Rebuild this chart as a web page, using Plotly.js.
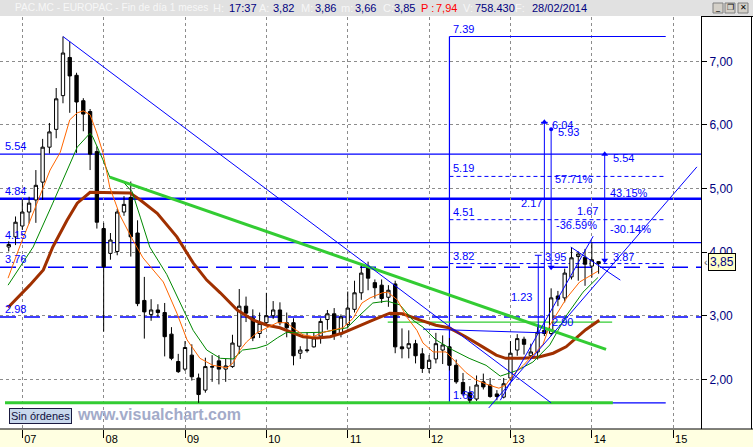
<!DOCTYPE html>
<html><head><meta charset="utf-8">
<script src="https://cdn.plot.ly/plotly-3.0.1.min.js"></script>
<style>html,body{margin:0;padding:0;background:#fff;overflow:hidden}#chart{width:753px;height:447px}</style>
</head><body><div id="chart"></div>
<script>
// ---------- DATA (monthly candles, month index 0 = Jan 2007) ----------
const firstMonth = -2; // Nov 2006
const opens = [4.08,4.24,4.41,4.63,4.82,5.10,5.65,5.93,6.46,7.06,
 6.78,6.38,6.21,5.58,4.37,3.98,4.01,4.63,4.86,4.30,
 3.24,3.02,3.09,3.05,2.71,2.28,2.16,2.38,2.02,1.83,
 2.19,2.29,2.16,2.20,2.52,3.15,2.96,2.72,2.89,3.00,
 3.09,2.89,2.89,2.41,2.45,2.51,2.68,2.94,3.03,2.71,
 2.86,3.10,3.36,3.78,3.52,3.48,3.29,3.50,2.51,2.49,
 2.56,2.40,2.17,2.32,2.46,2.51,2.22,1.95,1.79,1.69,
 1.96,1.91,1.77,1.72,2.02,2.46,2.63,2.37,2.43,2.77,
 2.72,3.31,3.28,3.61,3.93,3.92,3.78,3.82];
const highs = [4.17,4.56,4.83,4.87,5.29,5.78,6.03,6.58,7.39,7.31,
 6.82,6.42,6.25,5.66,4.46,4.30,4.68,4.88,5.11,4.50,
 3.61,3.26,3.18,3.20,2.82,2.40,2.60,2.55,2.09,2.34,
 2.38,2.38,2.32,2.70,3.42,3.30,3.10,3.05,3.36,3.23,
 3.21,3.05,2.96,2.52,2.74,2.73,2.96,3.09,3.12,3.02,
 3.38,3.55,3.82,3.85,3.57,3.57,3.48,3.55,2.80,2.77,
 2.62,2.49,2.38,2.73,2.69,2.65,2.31,2.10,1.89,2.06,
 2.09,2.02,1.83,2.02,2.60,2.71,2.67,2.56,2.85,2.92,
 3.43,3.39,3.74,4.08,4.01,4.05,4.15,3.86];
const lows = [4.01,4.11,4.35,4.45,4.46,4.82,5.55,5.79,6.34,6.19,
 5.56,5.90,5.29,4.37,2.75,3.88,3.95,4.57,3.93,3.15,
 2.64,2.92,2.98,2.36,2.30,2.10,2.13,1.98,1.63,1.79,
 1.96,1.92,1.96,2.18,2.40,2.90,2.60,2.65,2.85,2.95,
 2.85,2.66,2.22,2.32,2.42,2.50,2.56,2.78,2.62,2.66,
 2.80,3.05,3.25,3.40,3.27,3.20,3.14,2.41,2.33,2.33,
 2.25,2.10,2.10,2.25,2.24,2.14,1.93,1.74,1.63,1.66,
 1.84,1.71,1.67,1.70,1.98,2.37,2.39,2.35,2.31,2.68,
 2.68,3.15,3.21,3.57,3.55,3.47,3.60,3.66];
const closes = [4.12,4.47,4.63,4.77,5.05,5.65,5.89,6.41,7.13,6.77,
 6.36,6.17,5.54,4.47,3.77,4.19,4.63,4.75,4.24,3.19,
 3.06,3.09,3.05,2.67,2.33,2.12,2.50,2.04,1.76,2.20,
 2.20,2.16,2.21,2.57,3.15,3.04,2.65,2.88,3.00,3.09,
 2.89,2.81,2.37,2.46,2.46,2.65,2.91,3.03,2.70,2.98,
 3.12,3.36,3.67,3.59,3.44,3.27,3.40,2.51,2.48,2.56,
 2.37,2.17,2.30,2.56,2.54,2.22,1.96,1.77,1.67,1.91,
 1.88,1.73,1.73,1.93,2.41,2.64,2.55,2.43,2.74,2.72,
 3.28,3.26,3.67,3.91,3.97,3.81,3.88,3.85];

// moving averages: [month, price]
const maFast = [[-2.1,3.59],[-0.3,4.11],[1.1,4.48],[2.6,4.90],[4.1,5.29],[5.6,5.57],[7.0,6.08],[8.1,6.19],[9.0,6.22],[10.0,6.16],[11.0,5.87],[11.9,5.56],[12.9,5.02],[14.4,4.58],[16.3,4.19],[17.8,3.91],[19.3,3.72],[20.8,3.53],[22.8,3.04],[24.3,2.62],[26.2,2.33],[28.1,2.22],[30.2,2.18],[31.1,2.26],[32.1,2.46],[33.1,2.59],[34.6,2.73],[36.1,2.81],[37.6,2.89],[39.0,2.89],[39.9,2.81],[41.4,2.70],[42.9,2.67],[44.4,2.74],[45.8,2.77],[47.3,2.81],[48.8,2.96],[50.1,3.20],[51.3,3.28],[53.1,3.36],[53.9,3.37],[55.3,3.25],[56.7,2.98],[58.2,2.77],[59.1,2.57],[60.6,2.43],[62.5,2.43],[64.0,2.27],[65.4,2.11],[66.9,1.99],[68.8,1.91],[70.3,1.86],[71.3,1.91],[72.4,2.07],[73.9,2.22],[75.3,2.38],[76.8,2.55],[77.8,2.85],[80.3,3.28],[82.2,3.53],[84.9,3.70]];
const maMid = [[-2.1,3.48],[1.6,4.08],[4.5,4.77],[6.6,5.29],[8.1,5.65],[10.0,5.87],[10.4,5.81],[11.9,5.45],[12.9,5.18],[14.9,5.10],[16.2,4.95],[17.4,4.55],[18.8,4.08],[21.3,3.65],[23.3,3.20],[25.2,2.77],[27.2,2.46],[29.2,2.33],[31.1,2.32],[32.5,2.46],[34.6,2.49],[36.1,2.54],[37.6,2.65],[39.0,2.74],[40.5,2.73],[42.4,2.73],[44.4,2.74],[45.8,2.77],[47.9,2.81],[49.8,3.01],[51.7,3.20],[53.8,3.23],[55.7,3.17],[57.6,2.93],[59.1,2.82],[61.0,2.62],[63.5,2.46],[65.9,2.33],[68.4,2.22],[70.5,2.05],[73.0,2.14],[75.3,2.27],[77.8,2.54],[80.3,3.01],[82.7,3.37],[84.9,3.60]];
const maSlow = [[-2.1,3.13],[1.1,3.48],[3.1,3.72],[4.5,4.08],[6.6,4.50],[8.1,4.77],[10.0,4.94],[11.9,4.94],[13.9,4.93],[15.9,4.93],[17.4,4.82],[19.9,4.61],[22.8,4.24],[25.2,3.83],[27.2,3.56],[29.2,3.36],[31.7,3.09],[34.1,2.93],[36.1,2.85],[38.0,2.81],[39.9,2.73],[41.4,2.67],[43.5,2.65],[45.4,2.67],[47.3,2.73],[49.4,2.82],[51.7,2.93],[54.2,3.04],[56.1,3.03],[58.7,2.93],[61.0,2.85],[62.9,2.81],[65.4,2.67],[67.9,2.51],[69.9,2.38],[71.3,2.33],[73.9,2.33],[76.2,2.35],[78.3,2.41],[80.2,2.51],[81.7,2.65],[83.1,2.78],[85.1,2.93]];

// axis ticks
const yearTicks = [0,12,24,36,48,60,72,84,96];
const yearLabels = ['07','08','09','10','11','12','13','14','15'];
const priceTicks = [2,3,4,5,6,7];
const priceLabels = ['2,00','3,00','4,00','5,00','6,00','7,00'];

// drawing-tool levels
const solidLevels = [5.54, 4.15];
const thickLevels = [4.84];
const dashedLevels = [3.76, 2.98];
const levelLabels = ['5.54','4.84','4.15','3.76','2.98'];
const levelLabelValues = [5.54, 4.84, 4.15, 3.76, 2.98];
const boxMonths = [63.0, 94.9];
const boxLevels = [7.39, 1.63];
const fibLevels = [5.19, 4.51, 3.82];
const supportMonths = [-2.55, 87.1];
const supportLevel = 1.63;
const thinGreenMonths = [53.9, 87.0];
const thinGreenLevel = 2.90;
const flatBlueMonths = [59.1, 77.1];
const flatBlueLevels = [2.79, 2.73];
const downBlueMonths = [6, 78];
const downBlueLevels = [7.39, 1.63];
const greenTrendMonths = [12.9, 86.1];
const greenTrendLevels = [5.18, 2.47];
const upAMonths = [68.8, 99.5];
const upALevels = [1.55, 5.34];
const upBMonths = [70.5, 84.2];
const upBLevels = [1.67, 4.25];
const shortCMonths = [80.9, 88.2];
const shortCLevels = [4.08, 3.56];
// vertical measurements
const measureMonths = [76.1, 77.0, 78.0, 85.9];
const measureFrom = [2.73, 2.73, 3.76, 3.87];
const measureTo = [3.95, 6.04, 5.93, 5.54];
const lastClose = 3.85;

// ---------- CHART ----------
const FONT = 'Liberation Sans, Arial, sans-serif';
const BLUE = '#0000FF', NAVY = '#000080', RED = '#FF0000', GREEN = '#33CC33';
const PL = 0, PR = 701, PT = 17, PB = 429;
const fx = px => (px - PL) / (PR - PL);
const fy = py => (PB - py) / (PB - PT);
const months = opens.map((_, i) => firstMonth + i);

const traces = [];
traces.push({type:'candlestick', x: months, open: opens, high: highs, low: lows, close: closes,
  increasing:{line:{color:'#000',width:1}, fillcolor:'#FFFFFF'},
  decreasing:{line:{color:'#000',width:1}, fillcolor:'#000000'},
  whiskerwidth:0, hoverinfo:'skip', showlegend:false});
function lineTrace(pts, color, width){
  return {type:'scatter', mode:'lines', x: pts.map(p=>p[0]), y: pts.map(p=>p[1]),
    line:{color, width}, hoverinfo:'skip', showlegend:false};
}
traces.push(lineTrace(maSlow, '#A03000', 3));
traces.push(lineTrace(maMid, '#008800', 1));
traces.push(lineTrace(maFast, '#FF6600', 1));
function seg(xs, ys, color, width, dash){
  return {type:'scatter', mode:'lines', x: xs, y: ys, line:{color, width, dash: dash||'solid'}, hoverinfo:'skip', showlegend:false, cliponaxis:true};
}
traces.push(seg(greenTrendMonths, greenTrendLevels, GREEN, 3));
traces.push(seg(downBlueMonths, downBlueLevels, BLUE, 1));
traces.push(seg(upAMonths, upALevels, BLUE, 1));
traces.push(seg(upBMonths, upBLevels, BLUE, 1));
traces.push(seg(shortCMonths, shortCLevels, BLUE, 1));
traces.push(seg(flatBlueMonths, flatBlueLevels, BLUE, 1));
measureMonths.forEach((m, i) => traces.push(seg([m, m], [measureFrom[i], measureTo[i]], BLUE, 1)));
traces.push({type:'scatter', mode:'markers', x:[measureMonths[1], measureMonths[3]], y:[measureTo[1], measureTo[3]],
  marker:{symbol:'triangle-up', size:6, color:BLUE}, hoverinfo:'skip', showlegend:false});
traces.push({type:'scatter', mode:'markers', x:[measureMonths[2], measureMonths[3]], y:[measureFrom[2], measureFrom[3]],
  marker:{symbol:'triangle-down', size:6, color:BLUE}, hoverinfo:'skip', showlegend:false});
traces.push({type:'scatter', mode:'markers', x:[measureMonths[2]], y:[measureTo[2]],
  marker:{symbol:'circle', size:4, color:BLUE}, hoverinfo:'skip', showlegend:false});

const shapes = [];
// header bar, bottom strip, frame
shapes.push({type:'rect', xref:'paper', yref:'paper', x0:fx(0), x1:fx(753), y0:fy(16), y1:fy(0), fillcolor:'#E1E1E1', line:{width:0}, layer:'below'});
shapes.push({type:'rect', xref:'paper', yref:'paper', x0:fx(0), x1:fx(753), y0:fy(447), y1:fy(429), fillcolor:'#FFFFE1', line:{width:0}, layer:'below'});
shapes.push({type:'line', xref:'paper', yref:'paper', x0:fx(0), x1:fx(753), y0:fy(429), y1:fy(429), line:{color:'#000', width:1}});
shapes.push({type:'line', xref:'paper', yref:'paper', x0:fx(701), x1:fx(753), y0:fy(16.5), y1:fy(16.5), line:{color:'#000', width:1}});
shapes.push({type:'line', xref:'paper', yref:'paper', x0:fx(751.5), x1:fx(751.5), y0:fy(16.5), y1:fy(429), line:{color:'#000', width:1}});
// window buttons
[[713,723],[725,735],[738,748]].forEach(b => shapes.push({type:'rect', xref:'paper', yref:'paper', x0:fx(b[0]), x1:fx(b[1]), y0:fy(13), y1:fy(3), fillcolor:'#D4D0C8', line:{color:'#808080', width:1}}));
// horizontal levels
solidLevels.forEach(v => shapes.push({type:'line', xref:'paper', yref:'y', x0:0, x1:1, y0:v, y1:v, line:{color:BLUE, width:1.3}, layer:'between'}));
thickLevels.forEach(v => shapes.push({type:'line', xref:'paper', yref:'y', x0:0, x1:1, y0:v, y1:v, line:{color:BLUE, width:2.6}, layer:'between'}));
dashedLevels.forEach(v => shapes.push({type:'line', xref:'paper', yref:'y', x0:0, x1:1, y0:v, y1:v, line:{color:BLUE, width:1.5, dash:'16px,8px'}, layer:'between'}));
fibLevels.forEach(v => shapes.push({type:'line', xref:'x', yref:'y', x0:boxMonths[0], x1:boxMonths[1]-0.1, y0:v, y1:v, line:{color:BLUE, width:1, dash:'4px,3px'}, layer:'between'}));
// box
shapes.push({type:'line', xref:'x', yref:'y', x0:boxMonths[0], x1:boxMonths[0], y0:boxLevels[1], y1:boxLevels[0], line:{color:BLUE, width:1.2}, layer:'between'});
boxLevels.forEach(v => shapes.push({type:'line', xref:'x', yref:'y', x0:boxMonths[0], x1:boxMonths[1], y0:v, y1:v, line:{color:BLUE, width:1.2}, layer:'between'}));
// green support and thin green level
shapes.push({type:'line', xref:'x', yref:'y', x0:supportMonths[0], x1:supportMonths[1], y0:supportLevel, y1:supportLevel, line:{color:GREEN, width:3}, layer:'between'});
shapes.push({type:'line', xref:'x', yref:'y', x0:thinGreenMonths[0], x1:thinGreenMonths[1], y0:thinGreenLevel, y1:thinGreenLevel, line:{color:GREEN, width:1.2}, layer:'between'});
// caps on measure tops
[0,1].forEach(i => shapes.push({type:'line', xref:'x', yref:'y', x0:measureMonths[i]-0.5, x1:measureMonths[i]+0.5, y0:measureTo[i], y1:measureTo[i], line:{color:BLUE, width:1}}));

const ann = [];
const lf = {family:FONT, size:11, color:BLUE};
function lab(text, x, y, xa, ya, xs, ys, xref){
  ann.push({text, x, y, xref: xref||'x', yref:'y', xanchor:xa, yanchor:ya, xshift:xs||0, yshift:ys||0, showarrow:false, font:lf, borderpad:0});
}
levelLabels.forEach((t, i) => lab(t, fx(4), levelLabelValues[i], 'left', 'bottom', 0, 1, 'paper'));
boxLevels.forEach(v => lab(v.toFixed(2), boxMonths[0], v, 'left', 'bottom', 3, 1));
fibLevels.forEach(v => lab(v.toFixed(2), boxMonths[0], v, 'left', 'bottom', 3, 1));
lab('6.04', measureMonths[1], measureTo[1], 'left', 'middle', 7, -3);
lab('5.93', measureMonths[2], measureTo[2], 'left', 'middle', 6, -3);
lab('5.54', measureMonths[3], measureTo[3], 'left', 'middle', 7, -4);
lab('3.87', measureMonths[3], measureFrom[3], 'left', 'middle', 7, 3);
lab('3.95', measureMonths[0], measureTo[0], 'left', 'middle', 6, -2);
lab('1.23', measureMonths[0], 3.30, 'right', 'middle', -5, 0);
lab('2.17', measureMonths[2], 4.77, 'right', 'middle', -8, 0);
lab('57.71%', measureMonths[2], 5.15, 'left', 'middle', 3, 0);
lab('-36.59%', measureMonths[2], 4.43, 'left', 'middle', 4, 0);
lab('1.67', measureMonths[3], 4.64, 'right', 'middle', -6, 0);
lab('43.15%', measureMonths[3], 4.93, 'left', 'middle', 4, 0);
lab('-30.14%', measureMonths[3], 4.36, 'left', 'middle', 4, 0);
lab('2.90', measureMonths[2], thinGreenLevel, 'left', 'middle', 0, 0);

// header
const WH = '#F7F7F7';
const headerParts = [
 ['PAC.MC - EUROPAC - Fin de día 1 meses', 14, WH, 'left', 10.2], ['H:', 225, WH, 'right', 11], ['17:37', 228, NAVY, 'left', 11], ['A:', 258, WH, 'left', 11], ['3,82', 272, NAVY, 'left', 11],
 ['M:', 300, WH, 'left', 11], ['3,86', 314, NAVY, 'left', 11], ['m:', 340, WH, 'left', 11], ['3,66', 354, NAVY, 'left', 11], ['C:', 382, WH, 'left', 11], ['3,85', 393, NAVY, 'left', 11],
 ['P :', 420, RED, 'left', 11], ['7,94', 435, RED, 'left', 11], ['V:', 462, WH, 'left', 11], ['758.430', 474, NAVY, 'left', 11], ['F:', 514, WH, 'left', 11], ['28/02/2014', 531, NAVY, 'left', 11]];
headerParts.forEach(h => ann.push({text:h[0], xref:'paper', yref:'paper', x:fx(h[1]), y:fy(8), xanchor:h[3], yanchor:'middle',
  showarrow:false, borderpad:0, font:{family:FONT, size:h[4], color:h[2]}}));
[['_',718],['❐',730],['✕',743]].forEach(b => ann.push({text:b[0], xref:'paper', yref:'paper', x:fx(b[1]), y:fy(8), xanchor:'center', yanchor:'middle',
  showarrow:false, borderpad:0, font:{family:'DejaVu Sans, sans-serif', size:8, color:'#000'}}));
// price box
ann.push({text:lastClose.toFixed(2).replace('.', ','), xref:'paper', yref:'y', x:fx(708), y:lastClose, xanchor:'left', yanchor:'middle',
  showarrow:false, bgcolor:'#FFFFC8', bordercolor:'#000', borderwidth:1, borderpad:1, font:{family:FONT, size:12, color:NAVY}});
ann.push({text:'‹', xref:'paper', yref:'y', x:fx(703), y:lastClose, xanchor:'left', yanchor:'middle', showarrow:false, borderpad:0,
  font:{family:FONT, size:11, color:'#555'}});
// footer items
ann.push({text:'Sin órdenes', xref:'paper', yref:'paper', x:fx(9), y:fy(416), xanchor:'left', yanchor:'middle', showarrow:false,
  bgcolor:'#C8D8EC', bordercolor:'#1A1A40', borderwidth:1, borderpad:1, font:{family:FONT, size:11, color:'#101040'}});
ann.push({text:'<b>www.visualchart.com</b>', xref:'paper', yref:'paper', x:fx(76), y:fy(414), xanchor:'left', yanchor:'middle', showarrow:false,
  borderpad:0, font:{family:FONT, size:16, color:'#A3ABC9'}});

const layout = {
  width:753, height:447, margin:{l:PL, r:753-PR, t:PT, b:447-PB, pad:0},
  paper_bgcolor:'#FFFFFF', plot_bgcolor:'#FFFFFF', showlegend:false, dragmode:false,
  xaxis:{range:[(0-22.3)/6.78, (701-22.3)/6.78], tickvals:yearTicks, ticktext:yearLabels, ticks:'outside', ticklen:8, tickcolor:'#000',
    ticklabelshift:8, ticklabelstandoff:-8,
    tickfont:{family:FONT, size:11, color:'#000'}, showgrid:true, gridcolor:'#8C8C8C', griddash:'dot', gridwidth:1,
    zeroline:false, showline:false, rangeslider:{visible:false}, fixedrange:true},
  yaxis:{side:'right', range:[2-(429-379.3)/63.6, 7+(61.3-17)/63.6], tickvals:priceTicks, ticktext:priceLabels, ticks:'outside', ticklen:5,
    tickcolor:'#000', tickfont:{family:FONT, size:12, color:NAVY}, showgrid:true, gridcolor:'#8C8C8C', griddash:'dot', gridwidth:1,
    zeroline:false, showline:true, linecolor:'#000', linewidth:1, fixedrange:true},
  shapes, annotations: ann
};
Plotly.newPlot('chart', traces, layout, {displayModeBar:false, staticPlot:true});
</script></body></html>
